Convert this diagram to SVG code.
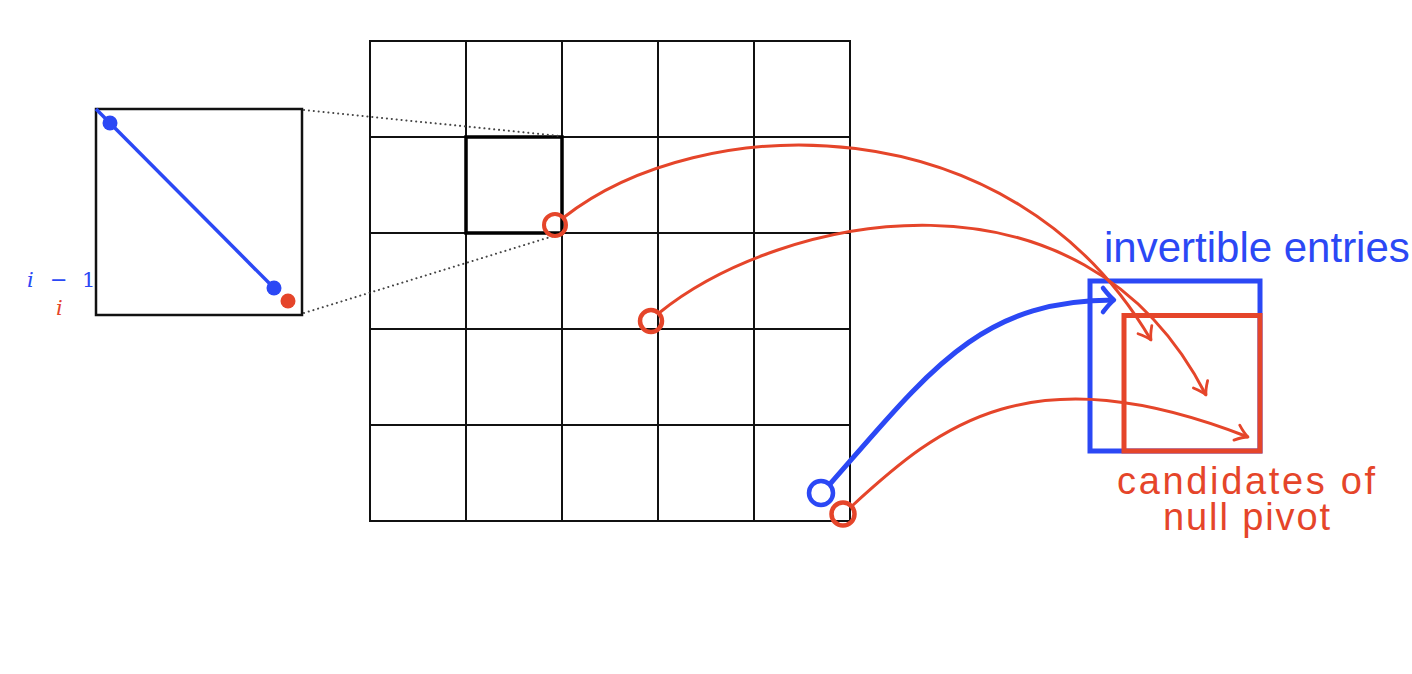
<svg xmlns="http://www.w3.org/2000/svg" width="1412" height="674" viewBox="0 0 1412 674">
  <defs>
    <style>
      .grid { stroke: #111; stroke-width: 2; fill: none; }
      .blue { stroke: #2B48F5; fill: none; }
      .red { stroke: #E5452A; fill: none; }
      .dot { stroke: #444; stroke-width: 2; stroke-dasharray: 0.1 4.8; stroke-linecap: round; fill: none; }
      .lbl { font-family: "Liberation Sans", Arial, sans-serif; }
      .math { font-family: "DejaVu Serif", "Liberation Serif", serif; font-size: 21px; }
    </style>
    <marker id="arrR" markerUnits="userSpaceOnUse" markerWidth="30" markerHeight="30" refX="0" refY="0" viewBox="-15 -15 30 30" orient="auto" overflow="visible">
      <path d="M -12,-8 Q -5,-2 0,0 Q -5,2 -12,8" fill="none" stroke="#E5452A" stroke-width="2.8" stroke-linecap="round" stroke-linejoin="round"/>
    </marker>
    <marker id="arrB" markerUnits="userSpaceOnUse" markerWidth="30" markerHeight="30" refX="0" refY="0" viewBox="-15 -15 30 30" orient="auto" overflow="visible">
      <path d="M -11,-12 Q -4,-3 0,0 Q -4,3 -11,12" fill="none" stroke="#2B48F5" stroke-width="4.5" stroke-linecap="round" stroke-linejoin="round"/>
    </marker>
  </defs>
  <rect width="1412" height="674" fill="#fff"/>

  <g id="matrix-grid" class="grid">
    <rect x="370" y="41" width="480" height="480"/>
    <line x1="466" y1="41" x2="466" y2="521"/>
    <line x1="562" y1="41" x2="562" y2="521"/>
    <line x1="658" y1="41" x2="658" y2="521"/>
    <line x1="754" y1="41" x2="754" y2="521"/>
    <line x1="370" y1="137" x2="850" y2="137"/>
    <line x1="370" y1="233" x2="850" y2="233"/>
    <line x1="370" y1="329" x2="850" y2="329"/>
    <line x1="370" y1="425" x2="850" y2="425"/>
  </g>

  <g id="highlight-cell">
    <rect x="466" y="137" width="96" height="96" fill="none" stroke="#000" stroke-width="3.5"/>
  </g>

  <g id="zoom-lines">
    <line class="dot" x1="304" y1="110" x2="560" y2="136"/>
    <line class="dot" x1="304" y1="313" x2="560" y2="234"/>
  </g>

  <g id="inset">
    <rect x="96" y="109" width="206" height="206" fill="none" stroke="#111" stroke-width="2.5"/>
    <line x1="96" y1="109" x2="274" y2="288" stroke="#2B48F5" stroke-width="3.5"/>
    <circle cx="110" cy="123" r="7.5" fill="#2B48F5"/>
    <circle cx="274" cy="288" r="7.5" fill="#2B48F5"/>
    <circle cx="288" cy="301" r="7.5" fill="#E5452A"/>
    <text class="math" x="27" y="287" fill="#2B48F5"><tspan font-style="italic">i</tspan><tspan x="50" font-family="DejaVu Sans, sans-serif">−</tspan><tspan x="82">1</tspan></text>
    <text class="math" x="56" y="315" fill="#E5452A" font-style="italic">i</text>
  </g>

  <g id="invertible-entries">
    <rect x="1090" y="281" width="170" height="170" fill="none" stroke="#2B48F5" stroke-width="5"/>
    <text class="lbl" x="1104" y="262" font-size="42" fill="#2B48F5">invertible entries</text>
  </g>

  <g id="null-pivot-candidates">
    <rect x="1124" y="315.5" width="136" height="135.5" fill="none" stroke="#E5452A" stroke-width="5"/>
    <text class="lbl" x="1117" y="494" font-size="38" fill="#E5452A" textLength="258" lengthAdjust="spacing">candidates of</text>
    <text class="lbl" x="1163" y="530" font-size="38" fill="#E5452A" textLength="167" lengthAdjust="spacing">null pivot</text>
  </g>

  <g id="entries">
    <circle cx="555" cy="225" r="11" fill="none" stroke="#E5452A" stroke-width="4"/>
    <circle cx="651" cy="321" r="11" fill="none" stroke="#E5452A" stroke-width="4.5"/>
    <circle cx="821" cy="493" r="12" fill="none" stroke="#2B48F5" stroke-width="4.5"/>
    <circle cx="843" cy="514" r="11.5" fill="none" stroke="#E5452A" stroke-width="4.5"/>
  </g>

  <g id="connectors">
    <path class="red" stroke-width="3" d="M 563,218 C 700,110 1010,100 1151,340" marker-end="url(#arrR)"/>
    <path class="red" stroke-width="3" d="M 659,313 C 780,215 1080,150 1206,395" marker-end="url(#arrR)"/>
    <path class="red" stroke-width="3" d="M 852,506 C 940,425 1030,352 1248,437" marker-end="url(#arrR)"/>
    <path class="blue" stroke-width="5" d="M 830,484 C 930,370 980,300 1114,300" marker-end="url(#arrB)"/>
  </g>
</svg>
